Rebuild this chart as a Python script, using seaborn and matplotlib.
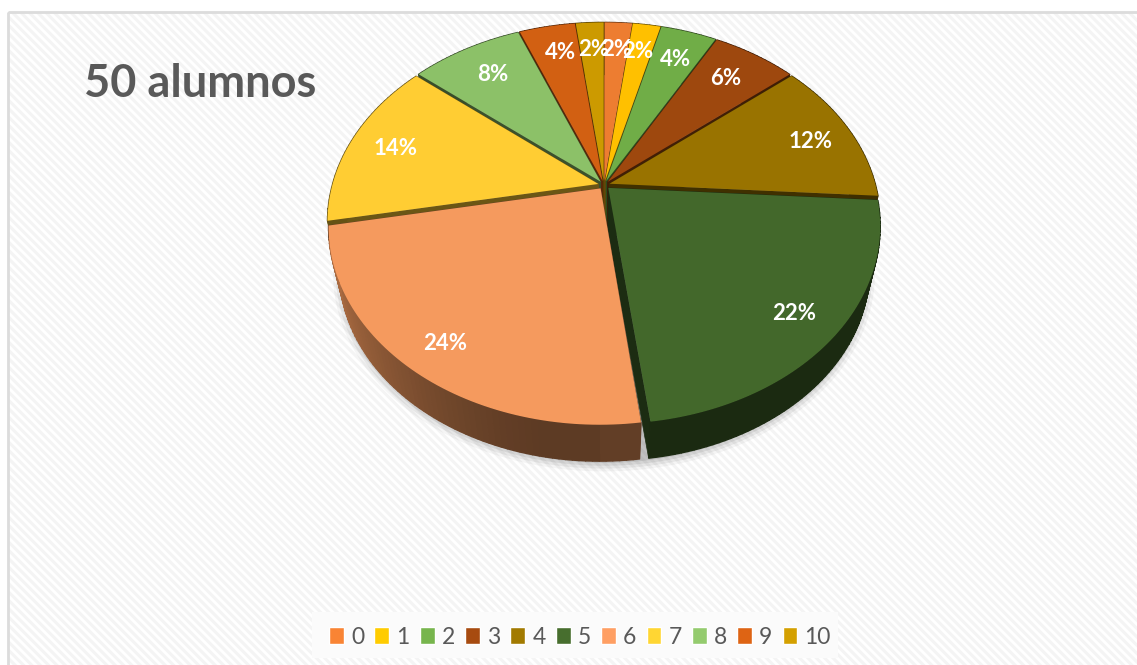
import numpy as np
import seaborn as sns
import matplotlib.pyplot as plt
from matplotlib.patches import Patch, Rectangle

# Data
grades = ["0", "1", "2", "3", "4", "5", "6", "7", "8", "9", "10"]
students = [1, 1, 2, 3, 6, 11, 12, 7, 4, 2, 1]
slice_colors = ["#ED7D31", "#FFC000", "#70AD47", "#9E480E", "#997300", "#43682B",
                "#F59A5E", "#FFCD33", "#8CC168", "#D26012", "#CC9A00"]
legend_colors = ["#F98434", "#FFCC00", "#77B54D", "#A74B10", "#A27A00", "#476E2E",
                 "#FF9F63", "#FFD633", "#94CB6E", "#DE6414", "#D4A000"]

sns.set_theme(style="white")
plt.rcParams['font.family'] = ['Lato', 'DejaVu Sans']
plt.rcParams['hatch.linewidth'] = 2.2

# Perspective of the pie, in pixels of the picture
CX, CY = 604, 185
RX, RY = 266, 190
TILT = 0.19
EXPLODE = 0.022
BASE_SCALE, BASE_DROP = 0.96, 46

# Small shifts of the labels, in pixels
label_dx = [0, -3, -1, -6, 2, 5, -6, 2, 6, 5, 2]
label_dy = [0, 0, 2, 1, 1, 1, 5, -1, 2, 0, 0]

fig, ax = plt.subplots(figsize=(11.37, 6.65), dpi=100)
ax.set_position([0, 0, 1, 1])
ax.set_xlim(0, 1137)
ax.set_ylim(665, 0)
ax.axis("off")


def top_face(x, y):
    s = 1 / (1 + TILT * y)
    return CX + RX * x * s, CY - RY * y * s


def bottom_face(x, y):
    px, py = top_face(x, y)
    return CX + (px - CX) * BASE_SCALE, CY + (py - CY) * BASE_SCALE + BASE_DROP


def darken(color, f):
    return tuple(c * f for c in plt.matplotlib.colors.to_rgb(color))


# Chart area
ax.add_patch(Rectangle((8, 12), 1140, 670, facecolor="white", edgecolor="#f4f4f4",
                       hatch="\\\\\\\\", lw=0, zorder=0))
ax.add_patch(Rectangle((8, 12), 1140, 670, fill=False, edgecolor="#dcdcdc", lw=2, zorder=1))

# Slices from the values
fractions = np.array(students) / sum(students)
edges = np.concatenate([[0], np.cumsum(fractions)]) * 2 * np.pi
mids = (edges[:-1] + edges[1:]) / 2

# Soft shadow under the pie
ring = np.linspace(0, 2 * np.pi, 200)
for grow, alpha in zip([1.04, 1.03, 1.02, 1.01], [0.04, 0.06, 0.07, 0.09]):
    sx, sy = bottom_face(np.sin(ring) * grow, np.cos(ring) * grow)
    ax.fill(sx, sy + 4, color="black", alpha=alpha, lw=0, zorder=2)

order = np.argsort(-np.cos(mids))
z = 3
for i in order:
    ox, oy = EXPLODE * np.sin(mids[i]), EXPLODE * np.cos(mids[i])
    t = np.linspace(edges[i], edges[i + 1], max(int(students[i] * 6), 6))
    gx, gy = ox + np.sin(t), oy + np.cos(t)
    side = darken(slice_colors[i], 0.42)

    # cut faces
    for a in (t[0], t[-1]):
        qx = np.array([ox, ox + np.sin(a)])
        qy = np.array([oy, oy + np.cos(a)])
        tx, ty = top_face(qx, qy)
        bx, by = bottom_face(qx, qy)
        ax.fill([tx[0], tx[1], bx[1], bx[0]], [ty[0], ty[1], by[1], by[0]],
                color=side, lw=0.5, zorder=z)
    # outer wall, lighter towards the left
    tx, ty = top_face(gx, gy)
    bx, by = bottom_face(gx, gy)
    for k in range(len(t) - 1):
        shade = 0.40
        if np.sin(t[k]) < 0 and np.cos(t[k]) < -0.25:
            shade = 0.38 + 0.34 * np.clip((-np.sin(t[k]) - 0.15) / 0.85, 0, 1) ** 1.5
        ax.fill([tx[k], tx[k + 1], bx[k + 1], bx[k]], [ty[k], ty[k + 1], by[k + 1], by[k]],
                color=darken(slice_colors[i], shade), lw=1.0, zorder=z)
    # top face
    fx, fy = top_face(np.concatenate([[ox], gx]), np.concatenate([[oy], gy]))
    ax.fill(fx, fy, color=slice_colors[i], lw=0, zorder=z + 0.5)
    z += 1

# Percentage labels
for i, n in enumerate(students):
    lx, ly = top_face(0.85 * np.sin(mids[i]), 0.85 * np.cos(mids[i]))
    ax.text(lx + label_dx[i], ly + 3 + label_dy[i], f"{round(fractions[i] * 100)}%",
            color="white", fontsize=16, fontweight="bold", ha="center", va="center", zorder=50)

ax.text(84, 84, "50 alumnos", color="#595959", fontsize=32.5, fontweight="bold",
        ha="left", va="center", zorder=50)

# Legend
ax.add_patch(Rectangle((312, 612), 526, 46, facecolor="#fbfbfb", lw=0, zorder=40))
handles = [Patch(facecolor=c, label=g) for c, g in zip(legend_colors, grades)]
leg = ax.legend(handles=handles, ncol=11, loc="center", bbox_to_anchor=(580 / 1137, 1 - 637 / 665),
                frameon=False, fontsize=16.5, handlelength=0.65, handleheight=0.8,
                handletextpad=0.3, columnspacing=0.45, labelcolor="#595959")
leg.set_zorder(45)

plt.savefig("out.png", dpi=100)
